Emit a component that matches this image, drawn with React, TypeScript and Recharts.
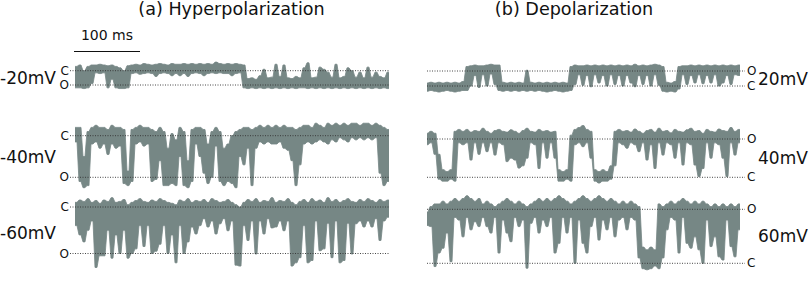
import React from 'react';
import { ComposedChart, Area, XAxis, YAxis, ReferenceLine } from 'recharts';

// ---- data (open-channel fraction: 0 = closed level "C", 1 = open level "O") ----
// Each bin (6 ms) holds the lowest and highest current fraction seen in that bin.
const SAMPLE_MS = 6;
const titles = ['(a) Hyperpolarization', '(b) Depolarization'];
const scaleBarLabel = '100 ms';
const closedLabel = 'C';
const openLabel = 'O';
const hypVoltages = ['-20mV', '-40mV', '-60mV'];
const depVoltages = ['20mV', '40mV', '60mV'];

// Hyperpolarization -20 mV
const hyp20Lo = [-0.3,-0.4,0,-0.3,-0.4,-0.4,-0.45,-0.4,-0.35,-0.4, -0.3,-0.2,0,-0.35,-0.4,-0.45,-0.4,-0.5,-0.45,-0.4, -0.45,-0.5,-0.45,-0.4,-0.5,-0.45,-0.45,-0.5,-0.45,-0.5, -0.45,-0.5,-0.45,-0.5,-0.45,-0.6,-0.5,-0.45,-0.5,-0.45, -0.5,-0.45,-0.4,0.55,0.5,0.6,0.35,-0.1,0.5,0.45, -0.45,0.4,-0.4,0.5,0.55,0.4,0.5,-0.2,-0.55,0.5, 0.45,-0.25,-0.1,0.1,0.45,-0.45,0.5,0.4,-0.2,0, 0.45,0.1,0.5,-0.25,0.45,0.1,0.4,0.5,0.1];
const hyp20Hi = [1.2,1.2,1.25,1.2,0.9,0.15,0.2,0.15,1.2,0.6, 1.2,1.25,1.25,1.2,0.2,0.15,0.25,0.2,0.15,0.2, 0.4,0.2,0.15,0.2,0.35,0.2,0.35,0.2,0.4,0.2, 0.15,0.2,0.35,0.2,0.15,0.2,0.15,0.2,0.2,0.35, 0.2,0.15,1.2,1.25,1.2,1.25,1.2,1.25,1.2,1.25, 1.2,1.25,1.2,1.25,1.2,1.25,1.2,1.2,1.25,1.2, 1.25,1.2,1.25,1.2,1.25,1.2,1.25,1.2,1.25,1.2, 1.25,1.2,1.25,1.2,1.25,1.2,1.25,1.2,1.25];

// Hyperpolarization -40 mV
const hyp40Lo = [-0.2,-0.2,0.5,-0.1,-0.2,-0.25,-0.2,-0.2,-0.15,-0.25, -0.2,-0.2,-0.15,0.85,-0.15,-0.2,-0.25,-0.2,-0.2,-0.15, -0.1,-0.2,-0.1,0.3,-0.05,0.1,-0.2,-0.1,0.6,-0.15, -0.2,-0.2,-0.15,0.2,-0.1,-0.2,-0.1,0.3,0.2,0, -0.1,-0.15,-0.2,-0.2,-0.15,-0.2,-0.25,-0.2,-0.25,-0.2, -0.25,-0.2,-0.25,-0.2,-0.2,-0.15,-0.2,-0.25,-0.25,-0.2, -0.3,-0.25,-0.2,-0.3,-0.25,-0.3,-0.25,-0.3,-0.25,-0.3, -0.3,-0.25,-0.3,-0.3,-0.25,-0.3,-0.25,-0.2,-0.15];
const hyp40Hi = [0.15,1.1,1.25,1.2,0.2,0.15,0.3,0.2,0.45,0.2, 0.3,0.25,1.15,1.2,1.1,0.2,0.15,0.25,0.2,1.1, 1.05,0.6,1.2,1.2,1.15,1.2,0.5,1.2,1.25,1.1, 0.2,0.5,0.9,1.15,1,0.25,1.1,1.2,1.1,1.15, 1.25,0.5,0.7,0.3,1.2,0.3,0.15,0.2,0.15,0.2, 0.2,0.15,0.3,0.35,0.6,1.2,0.7,0.2,0.15,0.2, 0.15,0.1,0.15,0.2,0.1,0.15,0.05,0.1,0.15,0.05, 0.1,0.05,0.1,0.05,0.1,0.05,0.9,1.2,1.1];

// Hyperpolarization -60 mV
const hyp60Lo = [-0.1,-0.15,-0.12,-0.18,-0.1,-0.14,-0.08,-0.15,-0.12,-0.2, -0.1,-0.12,-0.16,-0.05,-0.1,-0.14,-0.18,-0.12,-0.1,-0.15, -0.12,-0.18,-0.14,-0.1,-0.08,-0.05,-0.15,-0.12,-0.18,-0.1, -0.14,-0.12,-0.16,-0.1,-0.18,-0.14,-0.1,-0.12,-0.16,-0.1, -0.05,0,-0.1,-0.16,-0.12,-0.18,-0.1,-0.14,-0.12,-0.2, -0.1,-0.14,-0.12,-0.18,-0.1,-0.05,-0.12,-0.16,-0.1,-0.18, -0.12,-0.15,-0.1,-0.2,-0.12,-0.16,-0.1,-0.14,-0.18,-0.12, -0.1,-0.16,-0.12,-0.18,-0.14,-0.1,-0.16,-0.12,-0.15];
const hyp60Hi = [0.4,0.6,0.75,0.5,0.3,1.3,1.05,1.05,0.5,1.1, 0.6,1.0,0.5,1.1,1.0,0.9,0.4,0.85,0.4,1.0, 0.95,0.8,0.4,1.0,0.6,1.2,0.4,1.0,0.75,0.43, 0.58,0.4,0.25,0.43,0.3,0.58,0.36,0.25,0.51,0.3, 1.25,1.27,0.4,0.72,0.3,1.01,0.3,0.58,0.25,0.45, 0.43,0.3,0.51,0.3,1.27,1.2,1.09,0.4,1.2,1.15, 0.3,0.94,0.9,0.35,1.09,0.3,1.2,1.15,0.35,1.01, 0.36,0.3,0.43,0.3,0.43,0.25,0.72,0.3,0.22];

// Depolarization 20 mV
const dep20Hi = [0.2,0.25,0.2,0.25,0.2,0.25,0.2,0.25,0.2,0.3, 1.3,1.35,1.4,1.35,1.35,1.4,1.45,1.4,1.4,0.25, 0.2,0.25,0.2,0.25,0.2,1.05,0.25,0.2,0.25,0.2, 0.25,0.2,0.25,0.2,0.25,0.2,1.3,1.4,1.35,1.35, 1.4,1.35,1.4,1.35,1.4,1.35,1.4,1.35,1.4,1.35, 1.4,1.35,1.45,1.35,1.4,1.35,1.4,1.45,1.4,1.3, 0.25,0.2,0.3,1.3,1.35,1.35,1.4,1.35,1.4,1.35, 1.4,1.35,1.4,1.35,1.4,1.35,1.4,1.35,1.4];
const dep20Lo = [-0.35,-0.3,-0.35,-0.4,-0.35,-0.3,-0.35,-0.4,-0.35,-0.3, -0.3,0,0.7,-0.1,0.75,0,0.8,0.1,-0.3,-0.35, -0.3,-0.35,-0.3,-0.35,-0.3,-0.35,-0.3,-0.35,-0.3,-0.35, -0.4,-0.35,-0.3,-0.35,-0.4,-0.35,-0.3,0.1,0.75,0.05, 0.7,-0.05,0.75,0.2,0.7,0,0.75,0.1,0.7,0, 0.7,0.2,-0.05,0.7,0.1,0.7,0,0.75,0.05,-0.35, -0.4,-0.35,-0.4,-0.2,0.75,0.1,0.7,0.2,0.75,0.15, 0.7,0.2,0.75,0,0.2,0.7,0.1,0.75,0.7];

// Depolarization 40 mV
const dep40Hi = [1.15,1.2,1.15,0.6,0.2,0.15,0.2,1.2,1.25,1.2, 1.25,1.18,1.22,1.2,1.28,1.2,1.15,1.22,1.25,1.2, 1.18,1.24,1.2,1.15,1.22,1.28,1.2,1.18,1.25,1.2, 1.22,1.18,1.2,0.2,0.15,0.2,1.1,1.25,1.3,1.35, 1.25,1.2,0.2,0.15,0.2,0.15,0.3,1.2,1.25,1.2, 1.22,1.18,1.26,1.2,1.15,1.22,1.25,1.18,1.28,1.2, 1.22,1.16,1.25,1.2,1.18,1.24,1.28,1.2,1.22,1.15, 1.25,1.2,1.18,1.26,1.22,1.2,1.3,1.2,1.25];
const dep40Lo = [0.85,0.9,0.6,-0.05,-0.1,-0.1,-0.05,-0.1,0.9,0.85, 0.9,0.45,0.9,0.6,0.9,0.67,0.9,0.58,0.9,0.85, 0.41,0.5,0.45,0.24,0.3,0.5,0.9,0.85,0.23,0.9, 0.5,0.9,0.5,-0.1,-0.1,-0.05,-0.1,0.85,0.9,0.8, 0.9,0.5,-0.1,-0.15,-0.1,-0.1,-0.05,0.3,0.9,0.85, 0.76,0.9,0.85,0.67,0.9,0.45,0.85,0.23,0.9,0.58, 0.9,0.85,0.5,0.9,0.32,0.9,0.85,0.32,0.02,0.23, 0.9,0.5,0.9,0.85,0.5,0.02,0.9,0.58,0.9];

// Depolarization 60 mV
const dep60Hi = [0.95,1.05,1.1,1.1,1.15,1.1,1.15,1.2,1.15,1.2, 1.25,1.2,1.15,1.2,1.1,1.15,1.1,1.05,1.1,1.15, 1.2,1.15,1.1,1.15,1.1,1.05,1.1,1.15,1.2,1.15, 1.2,1.15,1.2,1.25,1.2,1.15,1.1,1.15,1.2,1.25, 1.2,1.15,1.2,1.25,1.2,1.15,1.2,1.15,1.1,1.15, 1.1,1.15,1.1,1.05,0.3,0.25,0.3,0.25,1.1,1.05, 1.1,1.15,1.1,1.15,1.2,1.15,1.1,1.15,1.1,1.15, 1.1,1.05,1.1,1.05,1.1,1.05,1.1,1.05,1.1];
const dep60Lo = [0.7,0.68,-0.06,0.19,0.28,0.56,0.03,0.85,0.8,0.49, 0.85,0.62,0.77,0.68,0.85,0.68,0.56,0.85,0.19,0.8, 0.56,0.4,0.85,0.68,0.8,-0.09,0.74,0.85,0.56,0.8, 0.68,0.85,0.19,0.37,0.85,0.56,0.85,0,0.8,0.37, 0.19,0.68,0.85,0.43,0.8,0.62,0.85,0.49,0.8,0.85, 0.62,0.85,0.8,0.1,-0.1,-0.12,-0.1,-0.05,-0.1,0.1, 0.62,0.85,0.8,0.19,0.85,0.37,0.28,0.49,0.25,0, 0.8,0.31,0.49,0.12,0.06,0.8,0.31,0.12,0.62];

// ---- styles / layout ----
const TRACE = '#768785';
const FONT = '"DejaVu Sans", Verdana, sans-serif';
const INK = '#111';

type TraceProps = {
  x: number; y: number; w: number; h: number;
  yClosed: number; yOpen: number;
  tMin: number; tMax: number;
  lo: number[]; hi: number[];
};

function Trace({ x, y, w, h, yClosed, yOpen, tMin, tMax, lo, hi }: TraceProps) {
  // each bin is held over the central half of its 6 ms, with linear changes between bins
  const data: { t: number; band: number[] }[] = [];
  lo.forEach((v, k) => {
    data.push({ t: k * SAMPLE_MS - SAMPLE_MS / 4, band: [v, hi[k]] });
    data.push({ t: k * SAMPLE_MS + SAMPLE_MS / 4, band: [v, hi[k]] });
  });
  const u = (py: number) => (py - yClosed) / (yOpen - yClosed);
  const inward = yOpen > yClosed;
  const domain = inward ? [u(y), u(y + h)] : [u(y + h), u(y)];
  return (
    <div style={{ position: 'absolute', left: x, top: y, width: w, height: h }}>
      <ComposedChart width={w} height={h} data={data} margin={{ top: 0, right: 0, bottom: 0, left: 0 }}>
        <XAxis type="number" dataKey="t" domain={[tMin, tMax]} allowDataOverflow hide />
        <YAxis type="number" domain={domain} reversed={inward} allowDataOverflow hide />
        <ReferenceLine y={0} stroke="#333" strokeDasharray="1 1.5" strokeWidth={0.9} />
        <ReferenceLine y={1} stroke="#333" strokeDasharray="1 1.5" strokeWidth={0.9} />
        <Area
          type="linear"
          dataKey="band"
          stroke={TRACE}
          strokeWidth={0.8}
          strokeLinejoin="round"
          fill={TRACE}
          fillOpacity={1}
          dot={false}
          activeDot={false}
          isAnimationActive={false}
        />
      </ComposedChart>
    </div>
  );
}

function Label({ x, y, text, size, align }: { x: number; y: number; text: string; size: number; align: 'left' | 'right' | 'center' }) {
  const tx = align === 'left' ? '0' : align === 'right' ? '-100%' : '-50%';
  return (
    <div
      style={{
        position: 'absolute', left: x, top: y, transform: `translate(${tx}, -50%)`,
        fontFamily: FONT, fontSize: size, lineHeight: 1, color: INK, whiteSpace: 'nowrap',
      }}
    >
      {text}
    </div>
  );
}

const leftRows = [
  { top: 56, h: 40, yClosed: 70.7, yOpen: 85, labelY: 77.8, lo: hyp20Lo, hi: hyp20Hi },
  { top: 118, h: 78, yClosed: 135.7, yOpen: 177.3, labelY: 156.5, lo: hyp40Lo, hi: hyp40Hi },
  { top: 192, h: 84, yClosed: 207, yOpen: 253.5, labelY: 233, lo: hyp60Lo, hi: hyp60Hi },
];
const rightRows = [
  { top: 56, h: 40, yClosed: 86, yOpen: 71, labelY: 78.5, lo: dep20Lo, hi: dep20Hi },
  { top: 118, h: 72, yClosed: 177.3, yOpen: 139, labelY: 158, lo: dep40Lo, hi: dep40Hi },
  { top: 186, h: 88, yClosed: 263.3, yOpen: 209.3, labelY: 236, lo: dep60Lo, hi: dep60Hi },
];

export default function App() {
  return (
    <div style={{ position: 'absolute', left: 0, top: 0, width: 812, height: 281, background: '#fff', overflow: 'hidden' }}>
      <Label x={231.5} y={10.4} text={titles[0]} size={17.6} align="center" />
      <Label x={574} y={10.4} text={titles[1]} size={17.6} align="center" />
      <Label x={107} y={35} text={scaleBarLabel} size={14} align="center" />
      <div style={{ position: 'absolute', left: 74, top: 51, width: 66, height: 0, borderTop: `1.5px solid ${INK}` }} />

      {leftRows.map((r, i) => (
        <React.Fragment key={'L' + i}>
          <Trace x={70} y={r.top} w={320} h={r.h} yClosed={r.yClosed} yOpen={r.yOpen} tMin={-9} tMax={471} lo={r.lo} hi={r.hi} />
          <Label x={69} y={r.yClosed} text={closedLabel} size={12} align="right" />
          <Label x={69} y={r.yOpen} text={openLabel} size={12} align="right" />
          <Label x={56} y={r.labelY} text={hypVoltages[i]} size={17} align="right" />
        </React.Fragment>
      ))}

      {rightRows.map((r, i) => (
        <React.Fragment key={'R' + i}>
          <Trace x={427} y={r.top} w={318} h={r.h} yClosed={r.yClosed} yOpen={r.yOpen} tMin={0} tMax={477} lo={r.lo} hi={r.hi} />
          <Label x={747} y={r.yOpen} text={openLabel} size={12} align="left" />
          <Label x={747} y={r.yClosed} text={closedLabel} size={12} align="left" />
          <Label x={758} y={r.labelY} text={depVoltages[i]} size={17} align="left" />
        </React.Fragment>
      ))}
    </div>
  );
}
